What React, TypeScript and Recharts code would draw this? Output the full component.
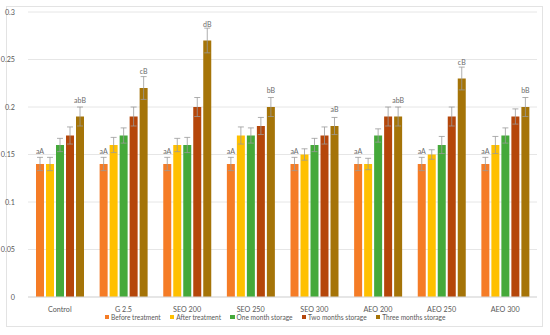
import React from 'react';
import { BarChart, Bar, XAxis, YAxis, CartesianGrid, Legend, ErrorBar, LabelList } from 'recharts';

const categories = ['Control', 'G 2.5', 'SEO 200', 'SEO 250', 'SEO 300', 'AEO 200', 'AEO 250', 'AEO 300'];
const beforeTreatment = [0.14, 0.14, 0.14, 0.14, 0.14, 0.14, 0.14, 0.14];
const afterTreatment = [0.14, 0.16, 0.16, 0.17, 0.15, 0.14, 0.15, 0.16];
const oneMonth = [0.16, 0.17, 0.16, 0.17, 0.16, 0.17, 0.16, 0.17];
const twoMonths = [0.17, 0.19, 0.2, 0.18, 0.17, 0.19, 0.19, 0.19];
const threeMonths = [0.19, 0.22, 0.27, 0.2, 0.18, 0.19, 0.23, 0.2];
const beforeErr = [0.007, 0.007, 0.007, 0.007, 0.007, 0.007, 0.007, 0.007];
const afterErr = [0.007, 0.008, 0.007, 0.009, 0.006, 0.006, 0.005, 0.009];
const oneMonthErr = [0.007, 0.008, 0.008, 0.008, 0.007, 0.007, 0.009, 0.008];
const twoMonthsErr = [0.009, 0.01, 0.01, 0.009, 0.009, 0.01, 0.01, 0.008];
const threeMonthsErr = [0.01, 0.012, 0.013, 0.01, 0.009, 0.01, 0.012, 0.01];
const firstLabels = ['aA', 'aA', 'aA', 'aA', 'aA', 'aA', 'aA', 'aA'];
const lastLabels = ['abB', 'cB', 'dB', 'bB', 'aB', 'abB', 'cB', 'bB'];
const yTicks = [0, 0.05, 0.1, 0.15, 0.2, 0.25, 0.3];

const seriesNames = ['Before treatment', 'After treatment', 'One month storage', 'Two months storage', 'Three months storage'];
const seriesColors = ['#F57C26', '#FFC000', '#45A93A', '#B5460A', '#A57408'];

const data = categories.map((c, i) => ({
  name: c,
  before: beforeTreatment[i],
  after: afterTreatment[i],
  one: oneMonth[i],
  two: twoMonths[i],
  three: threeMonths[i],
  beforeErr: beforeErr[i],
  afterErr: afterErr[i],
  oneErr: oneMonthErr[i],
  twoErr: twoMonthsErr[i],
  threeErr: threeMonthsErr[i],
  firstLabel: firstLabels[i],
  lastLabel: lastLabels[i],
}));

const keys = ['before', 'after', 'one', 'two', 'three'];
const FONT = 'Lato, "Open Sans", sans-serif';

const renderLegend = () => (
  <div style={{ display: 'flex', justifyContent: 'center', fontFamily: FONT, fontSize: 6.6, color: '#595959', paddingLeft: 22 }}>
    {seriesNames.map((n, i) => (
      <div key={n} style={{ display: 'flex', alignItems: 'center', marginRight: 9 }}>
        <span style={{ width: 4.5, height: 4.5, background: seriesColors[i], display: 'inline-block', marginRight: 2 }} />
        <span>{n}</span>
      </div>
    ))}
  </div>
);

const makeLabel = (gap: number) => (props: any) => {
  const { x, y, width, value } = props;
  return (
    <text x={Number(x) + Number(width) / 2} y={Number(y) - gap} textAnchor="middle" fill="#6b6b6b" fontSize={7} fontFamily={FONT}>
      {value}
    </text>
  );
};

export default function App() {
  return (
    <div style={{ position: 'absolute', left: 0, top: 0, width: 550, height: 335, background: '#fff' }}>
      <div style={{ position: 'absolute', left: 6, top: 6, width: 537, height: 321, border: '1px solid #e3e3e3', boxSizing: 'border-box' }} />
      <BarChart width={550} height={335} data={data} margin={{ top: 12, right: 13, left: 0, bottom: 4 }} barCategoryGap={8} barGap={2}>
        <CartesianGrid vertical={false} stroke="#e6e6e6" />
        <XAxis dataKey="name" tickLine={false} axisLine={{ stroke: '#d9d9d9' }} tick={{ fontSize: 7.2, fill: '#595959', fontFamily: FONT }} height={16} tickMargin={4} interval={0} />
        <YAxis domain={[0, 0.3]} ticks={yTicks} tickLine={false} axisLine={false} width={28} tickMargin={7} tick={{ fontSize: 7.2, fill: '#595959', fontFamily: FONT }} />
        <Legend verticalAlign="bottom" height={18} content={renderLegend} />
        {keys.map((k, i) => (
          <Bar key={k} dataKey={k} name={seriesNames[i]} fill={seriesColors[i]} isAnimationActive={false}>
            <ErrorBar dataKey={k + 'Err'} width={3} stroke="#9a9a9a" strokeWidth={0.8} direction="y" />
            {i === 0 && <LabelList dataKey="firstLabel" content={makeLabel(10)} />}
            {i === 4 && <LabelList dataKey="lastLabel" content={makeLabel(14)} />}
          </Bar>
        ))}
      </BarChart>
    </div>
  );
}
